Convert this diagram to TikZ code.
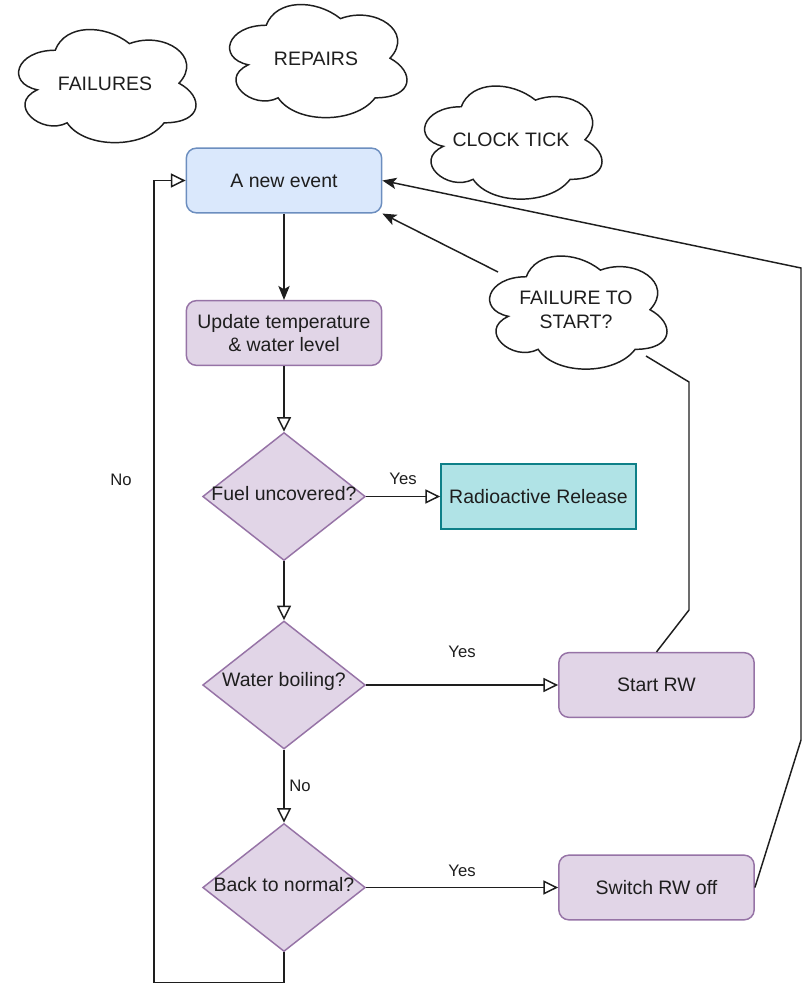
\documentclass[tikz,border=0pt]{standalone}
\usepackage{fontspec}
\setmainfont{Liberation Sans}
\usetikzlibrary{shapes.geometric,arrows.meta,calc}

\definecolor{evFill}{HTML}{DAE8FC}
\definecolor{evLine}{HTML}{6C8EBF}
\definecolor{prFill}{HTML}{E1D5E7}
\definecolor{prLine}{HTML}{9673A6}
\definecolor{rrFill}{HTML}{B0E3E6}
\definecolor{rrLine}{HTML}{0E8088}
\definecolor{ink}{HTML}{1E1E1E}

% cloud outline drawn inside the bounding box of a named node
\newcommand\cloudoutline[1]{%
  \draw[cloudline,shift={(#1.north west)},x=148.5pt,y=-99pt]
    (0.25,0.25) .. controls (0.05,0.25) and (0,0.5) .. (0.16,0.55)
    .. controls (0,0.66) and (0.18,0.9) .. (0.31,0.8)
    .. controls (0.4,1) and (0.7,1) .. (0.8,0.8)
    .. controls (1,0.8) and (1,0.6) .. (0.875,0.5)
    .. controls (1,0.3) and (0.8,0.1) .. (0.625,0.2)
    .. controls (0.5,0.05) and (0.3,0.05) .. (0.25,0.25) -- cycle;}

\begin{document}
\begin{tikzpicture}[x=0.75pt,y=-0.75pt,
  every node/.style={font=\fontsize{14.6}{17.8}\selectfont, text=ink},
  procbox/.style={rectangle, rounded corners=7.5pt, draw=prLine, fill=prFill,
    line width=1.1pt, minimum width=146.5pt, minimum height=48.5pt,
    inner sep=0pt, align=center},
  eventbox/.style={procbox, draw=evLine, fill=evFill},
  releasebox/.style={procbox, rounded corners=0pt, draw=rrLine, fill=rrFill},
  decision/.style={diamond, draw=prLine, fill=prFill, line width=1.1pt,
    minimum width=122pt, minimum height=96pt, inner sep=0pt},
  cloudnode/.style={rectangle, minimum width=148.5pt, minimum height=99pt,
    inner sep=0pt, align=center},
  cloudline/.style={draw=ink, line width=1.1pt},
  edgelabel/.style={font=\fontsize{12.5}{14}\selectfont, inner sep=0pt},
  conn/.style={draw=ink, line width=1.1pt},
  openarrow/.style={conn, -{Triangle[open,length=11pt,width=10.5pt,fill=white]}},
  solidarrow/.style={conn, -{Stealth[length=10.5pt,width=8.5pt,inset=2.5pt]}},
]
\fill[white] (0,0) rectangle (803,984);
\useasboundingbox (0,0) rectangle (803,984);

% background clouds
\node[cloudnode] (failures) at (105,83.5) {FAILURES};
\cloudoutline{failures}
\node[cloudnode] (repairs) at (316,58.5) {REPAIRS};
\cloudoutline{repairs}
\node[cloudnode] (clock) at (511,140) {CLOCK TICK};
\cloudoutline{clock}
\node[cloudnode] (fts) at (576,310) {FAILURE TO\\START?};
\cloudoutline{fts}

% main flow
\node[eventbox] (newevent) at (284,180.5) {A new event};
\node[procbox] (update) at (284,333) {Update temperature\\\& water level};
\node[decision, label={[yshift=2.5pt]center:Fuel uncovered?}] (fuel) at (284,496.5) {};
\node[releasebox] (release) at (538.5,496.5) {Radioactive Release};
\node[decision, label={[yshift=2.5pt]center:Water boiling?}] (boil) at (284,685) {};
\node[procbox] (startrw) at (656.5,685) {Start RW};
\node[decision, label={[yshift=2.5pt]center:Back to normal?}] (normal) at (284,887.5) {};
\node[procbox] (switchoff) at (656.5,887.5) {Switch RW off};

% bend points
\coordinate (loopA) at (284,982.5);
\coordinate (loopB) at (154,982.5);
\coordinate (rightA) at (801,740);
\coordinate (rightB) at (801,268);
\coordinate (ftsOut) at (498,272);
\coordinate (ftsIn) at (646,356);
\coordinate (feedA) at (689,610);
\coordinate (feedB) at (689,382);

% connectors
\draw[solidarrow] (newevent) -- (update);
\draw[openarrow] (update) -- (fuel);
\draw[openarrow] (fuel) -- node[edgelabel, midway, yshift=13.5pt] {Yes} (release);
\draw[openarrow] (fuel) -- (boil);
\draw[openarrow] (boil) -- node[edgelabel, midway, yshift=24.5pt] {Yes} (startrw);
\draw[openarrow] (boil) -- node[edgelabel, midway, xshift=12pt] {No} (normal);
\draw[openarrow] (normal) -- node[edgelabel, midway, yshift=12.5pt] {Yes} (switchoff);
\draw[openarrow] (normal.south) -- (loopA) -- (loopB) |- (newevent.west);
\node[edgelabel] (loopno) at (121,480) {No};
\draw[solidarrow] (switchoff.east) -- (rightA) -- (rightB) -- (newevent.east);
\draw[conn] (startrw.north) -- (feedA) -- (feedB) -- (ftsIn);
\draw[solidarrow] (ftsOut) -- (newevent.south east);
\end{tikzpicture}
\end{document}
